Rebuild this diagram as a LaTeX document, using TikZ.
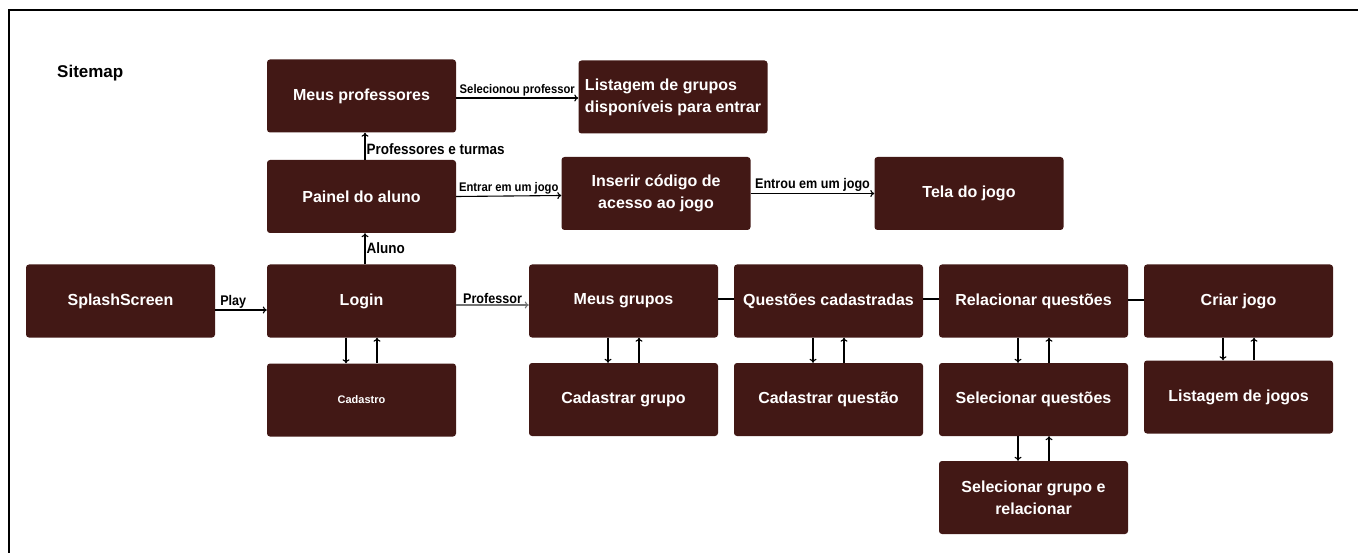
\documentclass[tikz,border=0pt]{standalone}
\usepackage{fontspec}
\setmainfont{Liberation Sans}
\newfontfamily\lblfont[FakeStretch=0.9]{Liberation Sans}
\usetikzlibrary{arrows.meta}
\definecolor{boxred}{RGB}{66,24,21}
\begin{document}
\begin{tikzpicture}[x=1pt,y=-1pt,
  screen/.style={draw=none, fill=boxred, rounded corners=3pt, text=white,
    minimum width=189pt, minimum height=73pt, inner sep=2pt,
    font=\fontsize{16}{22}\selectfont\bfseries, align=center},
  flow/.style={line width=1.1pt, -{To[length=4pt,width=7pt]}},
  link/.style={line width=1.1pt},
  lbl/.style={font=\lblfont\fontsize{14}{16}\selectfont\bfseries, inner sep=1pt}]
\useasboundingbox (0,0) rectangle (1359,553);

% frame
\draw[line width=1.5pt] (9,553) -- (9,10) -- (1358,10);
\node[anchor=west, inner sep=0pt, font=\fontsize{17}{20}\selectfont\bfseries] (title) at (57,73) {Sitemap};

% student branch
\node[screen] (meusprof) at (361.5,96) {Meus professores};
\node[screen, align=left] (listgrupos) at (673,97) {Listagem de grupos\\disponíveis para entrar};
\node[screen] (painel) at (361.5,196.5) {Painel do aluno};
\node[screen] (inserir) at (656,193.5) {Inserir código de\\acesso ao jogo};
\node[screen] (tela) at (969,193.5) {Tela do jogo};

% main row
\node[screen] (splash) at (120.5,301) {SplashScreen};
\node[screen] (login) at (361.5,301) {Login};
\node[screen] (meusgrupos) at (623.5,301) {Meus grupos};
\node[screen] (questoes) at (828.5,301) {Questões cadastradas};
\node[screen] (relacionar) at (1033.5,301) {Relacionar questões};
\node[screen] (criar) at (1238.5,301) {Criar jogo};

% second row
\node[screen, font=\fontsize{11}{13}\selectfont\bfseries] (cadastro) at (361.5,400) {Cadastro};
\node[screen] (cadgrupo) at (623.5,399.5) {Cadastrar grupo};
\node[screen] (cadquestao) at (828.5,399.5) {Cadastrar questão};
\node[screen] (selquestoes) at (1033.5,399.5) {Selecionar questões};
\node[screen] (listjogos) at (1238.5,397) {Listagem de jogos};
\node[screen] (selgrupo) at (1033.5,497.5) {Selecionar grupo e\\relacionar};

% labelled transitions
\draw[flow] ([yshift=-9pt]splash.east) -- node[lbl, above, pos=0.35] {Play} ([yshift=-9pt]login.west);
\draw[flow, black!55] ([yshift=-4pt]login.east) -- node[lbl, above, text=black] {Professor} ([yshift=-4pt]meusgrupos.west);
\draw[flow] ([xshift=3.5pt]login.north) -- node[lbl, right, pos=0.55, yshift=-1pt, font=\lblfont\fontsize{15}{17}\selectfont\bfseries] {Aluno} ([xshift=3.5pt]painel.south);
\draw[flow] ([xshift=3.5pt]painel.north) -- node[lbl, right, pos=0.4, font=\lblfont\fontsize{15}{17}\selectfont\bfseries] {Professores e turmas} ([xshift=3.5pt]meusprof.south);
\draw[flow] ([yshift=-2pt]meusprof.east) -- node[lbl, above, font=\lblfont\fontsize{12.5}{14}\selectfont\bfseries] {Selecionou professor} ([yshift=-1pt]listgrupos.west);
\draw[flow] (painel.east) -- node[lbl, above, font=\lblfont\fontsize{12.5}{14}\selectfont\bfseries] {Entrar em um jogo} ([yshift=-2pt]inserir.west);
\draw[flow] (inserir.east) -- node[lbl, above, font=\lblfont\fontsize{14}{16}\selectfont\bfseries] {Entrou em um jogo} (tela.west);

% plain links along the teacher row
\draw[link] ([yshift=2pt]meusgrupos.east) -- ([yshift=2pt]questoes.west);
\draw[link] ([yshift=2pt]questoes.east) -- ([yshift=2pt]relacionar.west);
\draw[link] ([yshift=1pt]relacionar.east) -- ([yshift=1pt]criar.west);

% two-way navigation between screens
\foreach \up/\down in {login/cadastro, meusgrupos/cadgrupo, questoes/cadquestao,
    relacionar/selquestoes, selquestoes/selgrupo, criar/listjogos} {
  \draw[flow] ([xshift=-15.5pt]\up.south) -- ([xshift=-15.5pt]\down.north);
  \draw[flow] ([xshift=15.5pt]\down.north) -- ([xshift=15.5pt]\up.south);
}
\end{tikzpicture}
\end{document}
